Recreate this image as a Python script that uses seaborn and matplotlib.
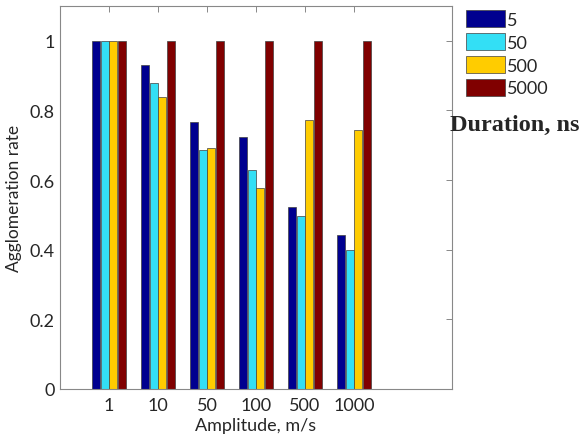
import matplotlib
matplotlib.use("Agg")
import matplotlib.pyplot as plt
import seaborn as sns
import pandas as pd

# amplitude groups and pulse durations
amplitudes = ["1", "10", "50", "100", "500", "1000"]
durations = ["5", "50", "500", "5000"]

rate_5ns = [1.0, 0.930, 0.767, 0.725, 0.523, 0.441]
rate_50ns = [1.0, 0.879, 0.687, 0.629, 0.497, 0.399]
rate_500ns = [1.0, 0.840, 0.692, 0.576, 0.774, 0.744]
rate_5000ns = [1.0, 1.0, 1.0, 1.0, 1.0, 1.0]

colors = ["#00008f", "#33dff5", "#ffcc00", "#800000"]

rows = []
for dur, vals in zip(durations, [rate_5ns, rate_50ns, rate_500ns, rate_5000ns]):
    for amp, v in zip(amplitudes, vals):
        rows.append({"Amplitude": amp, "Duration": dur, "rate": v})
df = pd.DataFrame(rows)

sns.set_style("white")
plt.rcParams["font.family"] = ["Lato", "DejaVu Sans"]

fig = plt.figure(figsize=(5.83, 4.39), dpi=100)
ax = fig.add_axes([60 / 583, 49 / 439, 392 / 583, 383 / 439])

sns.barplot(data=df, x="Amplitude", y="rate", hue="Duration",
            order=amplitudes, hue_order=durations, palette=colors,
            saturation=1, width=0.72, gap=0.08, edgecolor="#404040",
            linewidth=0.5, errorbar=None, ax=ax)

ax.set_xlim(-1, 7)
ax.set_ylim(0, 1.1)
ax.set_yticks([0, 0.2, 0.4, 0.6, 0.8, 1.0])
ax.set_yticklabels(["0", "0.2", "0.4", "0.6", "0.8", "1"])
ax.set_xlabel("Amplitude, m/s", fontsize=13, color="#262626", labelpad=3)
ax.set_ylabel("Agglomeration rate", fontsize=12.5, color="#262626", labelpad=5)
ax.tick_params(direction="in", top=True, right=True, length=4, width=0.7,
               color="#888888", labelsize=13, labelcolor="#262626", pad=6)
ax.tick_params(axis="y", pad=4)
for s in ax.spines.values():
    s.set_color("#888888")
    s.set_linewidth(0.8)

handles, labels = ax.get_legend_handles_labels()
ax.get_legend().remove()
fig.legend(handles, labels, loc="upper left",
           bbox_to_anchor=(466 / 583, 1 - 11 / 439), frameon=False,
           fontsize=13, handlelength=2.15, handleheight=1.1,
           labelspacing=0.28, handletextpad=0.1, borderpad=0, borderaxespad=0)

fig.text(0.772, 1 - 125 / 439, "Duration, ns", family="Liberation Serif",
         weight="bold", fontsize=17.5, ha="left", va="center")

fig.savefig("out.png", dpi=100)
